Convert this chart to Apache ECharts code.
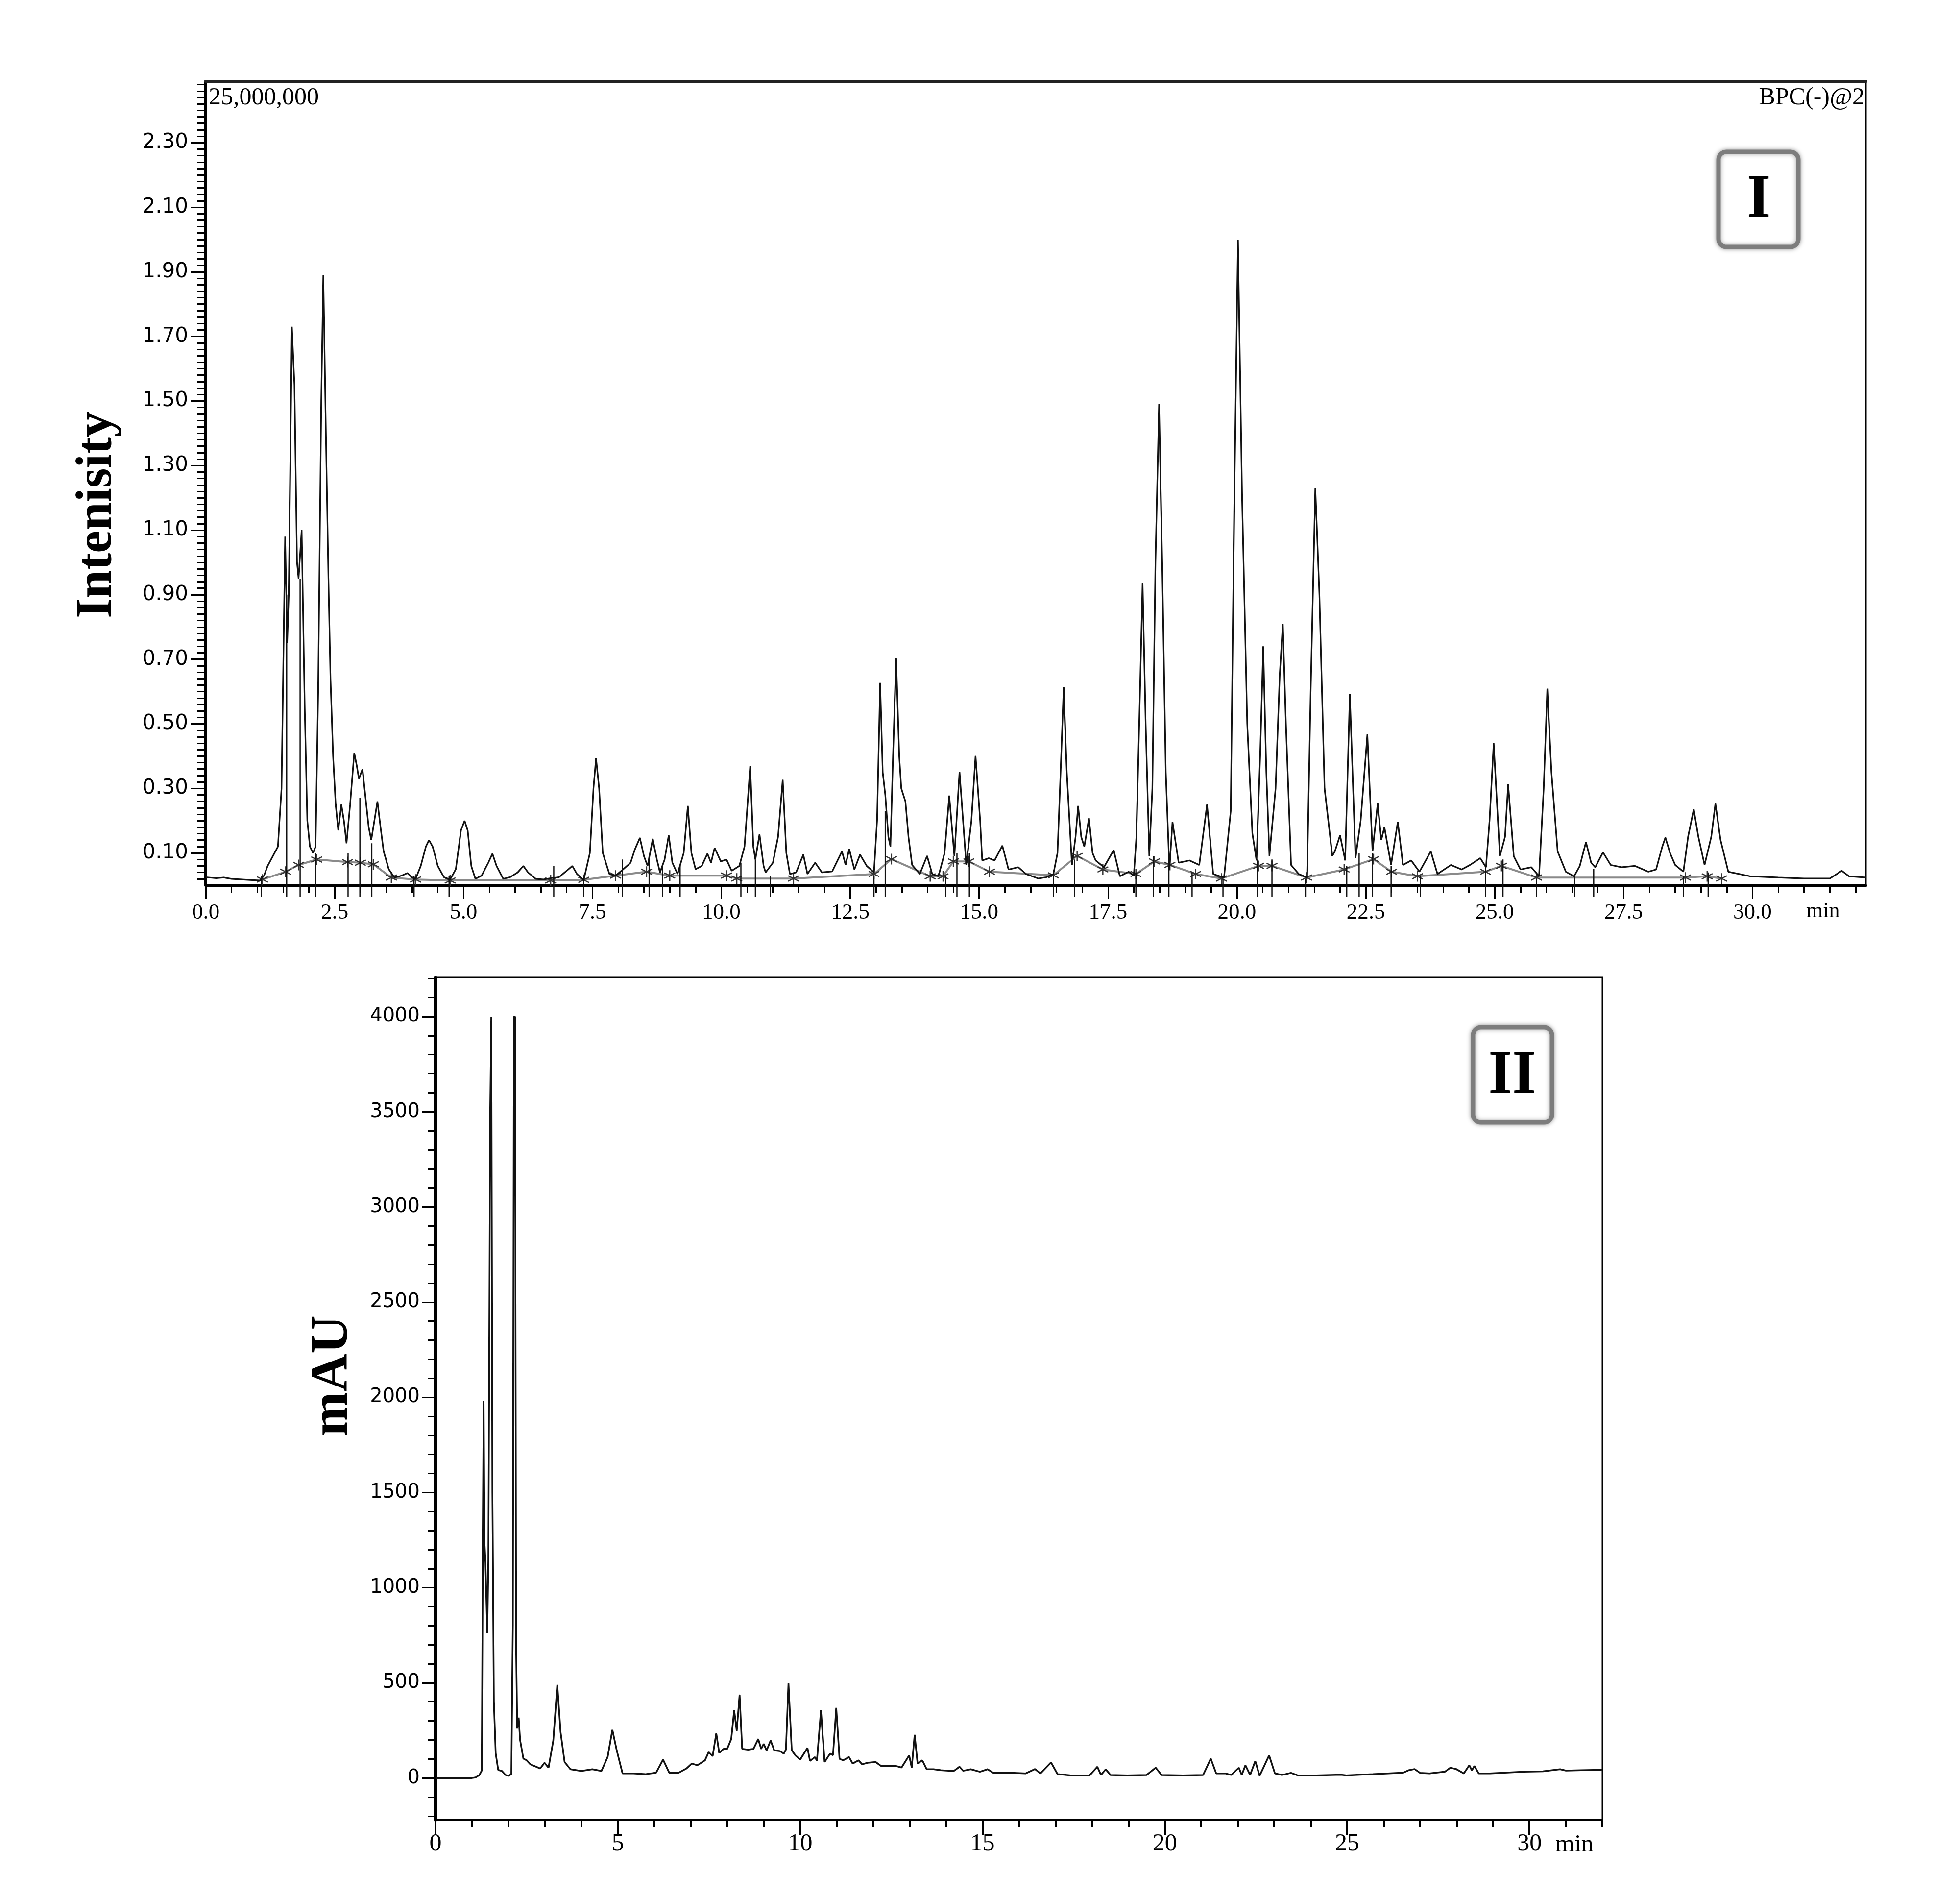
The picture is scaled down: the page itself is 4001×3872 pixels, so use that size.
<!DOCTYPE html>
<html><head><meta charset="utf-8">
<script src="https://cdn.jsdelivr.net/npm/echarts@6/dist/echarts.min.js"></script>
<style>html,body{margin:0;padding:0;background:#fff}#c{width:4001px;height:3872px}</style>
</head><body><div id="c"></div>
<script>
// ---------- Panel I : BPC(-) LC-MS chromatogram (time in min, intensity) ----------
const bpcTrace = [
[0.0,0.025],[0.2,0.022],[0.35,0.024],[0.5,0.02],[0.7,0.018],[0.9,0.016],[1.05,0.015],[1.13,0.03],[1.2,0.06],[1.3,0.09],[1.4,0.12],
[1.47,0.3],[1.54,1.08],[1.58,0.75],[1.61,0.9],[1.67,1.73],[1.72,1.55],[1.77,1.0],[1.80,0.95],[1.86,1.10],[1.92,0.55],[1.97,0.2],
[2.02,0.12],[2.08,0.1],[2.13,0.12],[2.18,0.6],[2.24,1.5],[2.28,1.89],[2.33,1.4],[2.38,0.95],[2.42,0.64],[2.47,0.4],[2.52,0.25],
[2.57,0.17],[2.63,0.25],[2.68,0.2],[2.73,0.13],[2.8,0.25],[2.88,0.41],[2.93,0.37],[2.97,0.33],[3.04,0.36],[3.1,0.27],[3.16,0.18],
[3.21,0.14],[3.27,0.2],[3.33,0.26],[3.39,0.18],[3.45,0.105],[3.55,0.05],[3.66,0.024],[3.8,0.03],[3.91,0.038],[4.0,0.025],[4.07,0.02],
[4.17,0.06],[4.27,0.12],[4.33,0.14],[4.4,0.12],[4.5,0.06],[4.62,0.025],[4.74,0.018],[4.85,0.05],[4.95,0.17],[5.02,0.2],[5.08,0.17],
[5.15,0.06],[5.23,0.02],[5.35,0.03],[5.48,0.07],[5.56,0.098],[5.64,0.06],[5.77,0.02],[5.9,0.025],[6.05,0.04],[6.16,0.06],[6.25,0.04],
[6.4,0.02],[6.55,0.018],[6.69,0.022],[6.85,0.025],[7.0,0.045],[7.11,0.06],[7.2,0.035],[7.33,0.016],[7.45,0.1],[7.52,0.3],[7.57,0.394],
[7.63,0.3],[7.7,0.1],[7.83,0.035],[7.95,0.03],[8.1,0.05],[8.24,0.07],[8.32,0.11],[8.42,0.147],[8.5,0.09],[8.57,0.06],[8.67,0.144],
[8.75,0.08],[8.81,0.04],[8.9,0.08],[8.98,0.155],[9.05,0.07],[9.15,0.035],[9.27,0.1],[9.35,0.246],[9.42,0.1],[9.5,0.05],[9.62,0.06],
[9.73,0.098],[9.8,0.07],[9.87,0.116],[9.99,0.074],[10.1,0.08],[10.2,0.045],[10.35,0.06],[10.45,0.12],[10.56,0.37],[10.62,0.12],
[10.66,0.08],[10.74,0.158],[10.82,0.06],[10.86,0.04],[11.0,0.07],[11.1,0.15],[11.19,0.327],[11.26,0.1],[11.33,0.035],[11.45,0.04],
[11.59,0.095],[11.67,0.035],[11.82,0.07],[11.95,0.04],[12.15,0.043],[12.34,0.105],[12.41,0.063],[12.48,0.112],[12.58,0.049],
[12.69,0.095],[12.82,0.06],[12.96,0.04],[13.02,0.2],[13.08,0.627],[13.13,0.35],[13.18,0.28],[13.24,0.15],[13.28,0.12],[13.33,0.4],
[13.39,0.704],[13.45,0.4],[13.49,0.3],[13.57,0.26],[13.63,0.15],[13.7,0.063],[13.85,0.035],[13.99,0.091],[14.09,0.035],[14.21,0.028],
[14.33,0.1],[14.42,0.278],[14.52,0.09],[14.62,0.352],[14.75,0.063],[14.85,0.2],[14.93,0.401],[15.02,0.2],[15.06,0.077],[15.19,0.084],
[15.3,0.077],[15.45,0.123],[15.57,0.049],[15.76,0.056],[15.91,0.035],[16.15,0.021],[16.3,0.025],[16.44,0.035],[16.52,0.1],[16.58,0.35],
[16.64,0.613],[16.7,0.35],[16.8,0.063],[16.87,0.15],[16.92,0.246],[16.98,0.15],[17.04,0.12],[17.13,0.208],[17.2,0.1],[17.26,0.077],
[17.42,0.056],[17.61,0.109],[17.73,0.028],[17.9,0.042],[18.0,0.03],[18.05,0.15],[18.12,0.6],[18.17,0.937],[18.23,0.5],[18.3,0.091],
[18.36,0.3],[18.42,1.0],[18.49,1.49],[18.55,1.0],[18.62,0.35],[18.69,0.049],[18.75,0.197],[18.87,0.07],[19.08,0.077],[19.27,0.063],
[19.42,0.25],[19.54,0.035],[19.75,0.024],[19.88,0.23],[19.95,1.2],[20.02,2.0],[20.1,1.2],[20.2,0.5],[20.3,0.16],[20.38,0.077],
[20.45,0.4],[20.51,0.74],[20.57,0.35],[20.63,0.091],[20.75,0.3],[20.83,0.65],[20.89,0.81],[20.95,0.5],[21.05,0.063],[21.2,0.035],
[21.36,0.024],[21.43,0.6],[21.52,1.23],[21.6,0.9],[21.7,0.3],[21.85,0.091],[21.9,0.105],[22.0,0.155],[22.1,0.077],[22.19,0.592],
[22.3,0.084],[22.4,0.2],[22.53,0.468],[22.63,0.105],[22.73,0.253],[22.8,0.14],[22.86,0.18],[22.99,0.063],[23.12,0.197],[23.22,0.063],
[23.38,0.077],[23.54,0.042],[23.76,0.105],[23.89,0.035],[24.15,0.063],[24.36,0.049],[24.52,0.063],[24.72,0.084],[24.83,0.056],
[24.9,0.2],[24.98,0.44],[25.1,0.09],[25.2,0.15],[25.26,0.313],[25.37,0.09],[25.5,0.049],[25.71,0.056],[25.86,0.028],[25.95,0.3],
[26.02,0.609],[26.1,0.35],[26.22,0.105],[26.38,0.042],[26.54,0.028],[26.65,0.06],[26.77,0.134],[26.87,0.07],[26.95,0.056],[27.1,0.102],
[27.25,0.063],[27.46,0.056],[27.72,0.06],[27.98,0.042],[28.13,0.049],[28.25,0.12],[28.31,0.148],[28.4,0.1],[28.5,0.063],[28.66,0.042],
[28.75,0.15],[28.86,0.236],[28.95,0.15],[29.07,0.063],[29.2,0.15],[29.28,0.253],[29.38,0.14],[29.53,0.042],[29.74,0.035],[29.95,0.028],
[30.5,0.024],[31.0,0.021],[31.5,0.021],[31.73,0.045],[31.87,0.028],[32.2,0.024]
];
const bpcBaseline = [
[1.1,0.018],[1.55,0.042],[1.8,0.063],[2.15,0.08],[2.75,0.072],[3.0,0.07],[3.25,0.065],[3.6,0.024],[4.07,0.018],[4.74,0.015],
[6.69,0.015],[7.33,0.017],[7.95,0.03],[8.55,0.042],[9.0,0.03],[10.1,0.03],[10.3,0.021],[11.4,0.021],[12.96,0.035],[13.3,0.081],
[14.05,0.028],[14.3,0.028],[14.5,0.074],[14.8,0.074],[15.2,0.042],[16.44,0.031],[16.9,0.091],[17.4,0.049],[18.04,0.035],[18.4,0.074],
[18.7,0.063],[19.2,0.035],[19.7,0.021],[20.42,0.06],[20.68,0.06],[21.35,0.024],[22.08,0.049],[22.65,0.081],[23.0,0.042],[23.5,0.028],
[24.82,0.042],[25.13,0.06],[25.81,0.024],[28.7,0.024],[29.12,0.028],[29.4,0.021]
];
const dropTimes = [1.08,1.57,1.83,2.13,2.76,2.99,3.22,4.04,4.72,6.75,7.33,8.08,8.6,8.86,9.2,10.38,10.66,10.95,12.96,13.18,14.35,14.57,14.81,
16.44,16.85,18.04,18.38,18.68,19.13,19.73,20.4,20.68,21.33,22.13,22.37,22.63,22.99,23.56,24.82,25.16,25.81,26.55,26.92,28.66,29.14];
const dropTops  = [0.03,0.9,0.95,0.1,0.1,0.27,0.13,0.03,0.03,0.06,0.02,0.08,0.09,0.06,0.06,0.07,0.08,0.03,0.03,0.23,0.03,0.1,0.1,
0.03,0.08,0.04,0.09,0.06,0.04,0.02,0.08,0.08,0.02,0.06,0.1,0.1,0.06,0.03,0.06,0.08,0.02,0.03,0.05,0.03,0.04];
const topXTickLabels = [0,2.5,5,7.5,10,12.5,15,17.5,20,22.5,25,27.5,30];
const topYTickLabels = [0.1,0.3,0.5,0.7,0.9,1.1,1.3,1.5,1.7,1.9,2.1,2.3];

// ---------- Panel II : HPLC-UV chromatogram (time in min, mAU) ----------
const uvTrace = [
[0,0],[0.5,0],[1.0,0],[1.1,3],[1.2,15],[1.27,40],[1.30,1300],[1.32,1980],[1.34,1250],[1.37,1130],[1.42,760],[1.45,1150],[1.50,3500],
[1.53,4000],[1.56,1500],[1.6,400],[1.65,130],[1.72,42],[1.82,37],[1.92,16],[2.0,11],[2.08,20],[2.12,800],[2.15,4000],[2.18,4000],
[2.21,700],[2.24,260],[2.28,317],[2.32,200],[2.41,102],[2.5,93],[2.6,72],[2.87,50],[2.99,80],[3.1,54],[3.23,197],[3.34,490],[3.43,240],
[3.54,84],[3.7,46],[4.0,37],[4.3,46],[4.55,37],[4.72,110],[4.85,253],[4.97,145],[5.13,24],[5.43,24],[5.75,20],[6.05,28],[6.24,97],
[6.41,28],[6.67,28],[6.88,50],[7.03,76],[7.18,67],[7.39,93],[7.49,136],[7.6,115],[7.7,235],[7.78,132],[7.9,153],[8.0,153],[8.11,205],
[8.19,356],[8.26,248],[8.34,438],[8.41,153],[8.57,149],[8.72,153],[8.85,205],[8.93,153],[9.0,179],[9.08,145],[9.19,197],[9.29,145],
[9.45,141],[9.55,128],[9.61,150],[9.68,498],[9.77,145],[9.87,119],[10.0,97],[10.2,158],[10.27,90],[10.41,110],[10.46,90],[10.57,356],
[10.67,84],[10.82,128],[10.9,120],[10.99,369],[11.08,101],[11.18,93],[11.34,110],[11.44,76],[11.6,93],[11.7,72],[11.85,80],[12.07,84],
[12.22,63],[12.63,63],[12.78,55],[12.99,119],[13.06,55],[13.14,227],[13.22,76],[13.35,93],[13.47,46],[13.66,46],[13.86,41],[14.07,38],
[14.22,38],[14.37,59],[14.47,38],[14.68,46],[14.93,33],[15.14,46],[15.29,28],[15.87,27],[16.18,24],[16.44,47],[16.59,24],[16.88,82],
[17.06,20],[17.42,14],[17.94,14],[18.15,59],[18.25,16],[18.38,46],[18.51,16],[18.97,14],[19.5,16],[19.75,54],[19.91,16],[20.5,14],
[21.05,16],[21.26,102],[21.41,24],[21.67,24],[21.82,16],[22.03,54],[22.11,16],[22.21,67],[22.34,16],[22.48,89],[22.6,12],[22.86,119],
[23.02,24],[23.22,16],[23.46,27],[23.64,14],[24.16,14],[24.83,17],[24.98,14],[25.71,20],[26.54,28],[26.69,41],[26.85,47],[27.0,27],
[27.26,24],[27.68,33],[27.83,54],[27.99,47],[28.2,24],[28.35,67],[28.42,40],[28.49,63],[28.61,24],[28.92,24],[29.33,28],[29.85,33],
[30.37,35],[30.84,46],[31.0,39],[31.41,41],[31.92,43],[32,44]
];
const botXTickLabels = [0,5,10,15,20,25,30];
const botYTickLabels = [0,500,1000,1500,2000,2500,3000,3500,4000];

// ---------- minor tick positions ----------
const topXMinor = []; for (let i = 0; i <= 64; i++) topXMinor.push(i / 2);
const topYMinor = []; for (let i = 1; i <= 124; i++) topYMinor.push(i / 50);
const botXMinor = []; for (let i = 0; i <= 32; i++) botXMinor.push(i);
const botYMinor = []; for (let i = -2; i <= 42; i++) botYMinor.push(i * 100);

const dropData = [];
dropTimes.forEach((t, i) => { dropData.push([t, -0.035], [t, dropTops[i]], [t, '-']); });

const BLACK = '#000';
const serif = '"Liberation Serif","Times New Roman",serif';
const sans = '"DejaVu Sans",Verdana,sans-serif';
const asterisk = 'path://M0,-10L0,10M-9,-5L9,5M-9,5L9,-5';

const chart = echarts.init(document.getElementById('c'), null, {renderer: 'canvas'});
chart.setOption({
  animation: false,
  backgroundColor: '#fff',
  grid: [
    {left: 420, top: 166, width: 3389, height: 1641, show: true, borderColor: BLACK, borderWidth: 3, backgroundColor: 'transparent'},
    {left: 889, top: 1995, width: 2382, height: 1720, show: true, borderColor: BLACK, borderWidth: 3, backgroundColor: 'transparent'}
  ],
  xAxis: [
    {type: 'value', gridIndex: 0, min: 0, max: 32.2, position: 'bottom',
     axisLine: {show: true, onZero: false, lineStyle: {color: BLACK, width: 5}},
     axisTick: {show: true, customValues: topXTickLabels, length: 28, lineStyle: {color: BLACK, width: 3}},
     axisLabel: {show: true, customValues: topXTickLabels, formatter: v => Number(v).toFixed(1),
                 fontFamily: serif, fontSize: 45, color: BLACK, margin: 34},
     splitLine: {show: false}},
    {type: 'value', gridIndex: 0, min: 0, max: 32.2, position: 'bottom',
     axisLine: {show: false, onZero: false}, axisLabel: {show: false},
     axisTick: {show: true, customValues: topXMinor, length: 15, lineStyle: {color: BLACK, width: 3}},
     splitLine: {show: false}},
    {type: 'value', gridIndex: 0, min: 0, max: 32.2, position: 'top',
     axisLine: {show: true, onZero: false, lineStyle: {color: '#222', width: 6}},
     axisTick: {show: false}, axisLabel: {show: false}, splitLine: {show: false}},
    {type: 'value', gridIndex: 1, min: 0, max: 32, position: 'bottom',
     axisLine: {show: true, onZero: false, lineStyle: {color: BLACK, width: 4}},
     axisTick: {show: true, customValues: botXTickLabels, length: 30, lineStyle: {color: BLACK, width: 4}},
     axisLabel: {show: true, customValues: botXTickLabels, formatter: v => String(Math.round(v)),
                 fontFamily: serif, fontSize: 50, color: BLACK, margin: 24},
     splitLine: {show: false}},
    {type: 'value', gridIndex: 1, min: 0, max: 32, position: 'bottom',
     axisLine: {show: false, onZero: false}, axisLabel: {show: false},
     axisTick: {show: true, customValues: botXMinor, length: 15, lineStyle: {color: BLACK, width: 4}},
     splitLine: {show: false}}
  ],
  yAxis: [
    {type: 'value', gridIndex: 0, min: 0, max: 2.49, position: 'left',
     axisLine: {show: true, onZero: false, lineStyle: {color: BLACK, width: 6}},
     axisTick: {show: true, customValues: topYTickLabels, length: 31, lineStyle: {color: BLACK, width: 3}},
     axisLabel: {show: true, customValues: topYTickLabels, formatter: v => Number(v).toFixed(2),
                 fontFamily: sans, fontSize: 42, color: BLACK, margin: 36},
     splitLine: {show: false}},
    {type: 'value', gridIndex: 0, min: 0, max: 2.49, position: 'left',
     axisLine: {show: false, onZero: false}, axisLabel: {show: false},
     axisTick: {show: true, customValues: topYMinor, length: 17, lineStyle: {color: BLACK, width: 3}},
     splitLine: {show: false}},
    {type: 'value', gridIndex: 1, min: -221, max: 4206, position: 'left',
     axisLine: {show: true, onZero: false, lineStyle: {color: BLACK, width: 6}},
     axisTick: {show: true, customValues: botYTickLabels, length: 28, lineStyle: {color: BLACK, width: 3}},
     axisLabel: {show: true, customValues: botYTickLabels, formatter: v => String(Math.round(v)),
                 fontFamily: sans, fontSize: 40, color: BLACK, margin: 32},
     splitLine: {show: false}},
    {type: 'value', gridIndex: 1, min: -221, max: 4206, position: 'left',
     axisLine: {show: false, onZero: false}, axisLabel: {show: false},
     axisTick: {show: true, customValues: botYMinor, length: 15, lineStyle: {color: BLACK, width: 3}},
     splitLine: {show: false}}
  ],
  series: [
    {type: 'line', xAxisIndex: 0, yAxisIndex: 0, data: bpcBaseline, showSymbol: true, symbol: asterisk, symbolSize: 22,
     itemStyle: {color: 'none', borderColor: '#333', borderWidth: 2.5},
     lineStyle: {color: '#8a8a8a', width: 4}, z: 2, silent: true},
    {type: 'line', xAxisIndex: 0, yAxisIndex: 0, data: dropData, showSymbol: false, symbol: 'none', clip: false,
     connectNulls: false, lineStyle: {color: '#111', width: 2.5}, z: 3, silent: true},
    {type: 'line', xAxisIndex: 0, yAxisIndex: 0, data: bpcTrace, showSymbol: false, symbol: 'none',
     lineStyle: {color: '#111', width: 3.2}, z: 4, silent: true},
    {type: 'line', xAxisIndex: 3, yAxisIndex: 2, data: uvTrace, showSymbol: false, symbol: 'none',
     lineStyle: {color: '#111', width: 3.5}, z: 4, silent: true}
  ],
  graphic: [
    {type: 'text', x: 426, y: 200, style: {text: '25,000,000', font: '50px ' + serif, fill: BLACK, align: 'left', verticalAlign: 'middle'}},
    {type: 'text', x: 3806, y: 200, style: {text: 'BPC(-)@2', font: '50px ' + serif, fill: BLACK, align: 'right', verticalAlign: 'middle'}},
    {type: 'text', x: 3687, y: 1860, style: {text: 'min', font: '44px ' + serif, fill: BLACK, align: 'left', verticalAlign: 'middle'}},
    {type: 'text', x: 3175, y: 3766, style: {text: 'min', font: '50px ' + serif, fill: BLACK, align: 'left', verticalAlign: 'middle'}},
    {type: 'text', x: 199, y: 1051, rotation: Math.PI / 2,
     style: {text: 'Intenisity', font: 'bold 104px ' + serif, fill: BLACK, align: 'center', verticalAlign: 'middle'}},
    {type: 'text', x: 680, y: 2808, rotation: Math.PI / 2,
     style: {text: 'mAU', font: 'bold 108px ' + serif, fill: BLACK, align: 'center', verticalAlign: 'middle'}},
    {type: 'rect', shape: {x: 3508, y: 310, width: 163, height: 194, r: 16},
     style: {fill: '#fff', stroke: '#7d7d7d', lineWidth: 9, shadowBlur: 10, shadowColor: 'rgba(0,0,0,0.35)'}},
    {type: 'text', x: 3590, y: 410, style: {text: 'I', font: 'bold 125px ' + serif, fill: BLACK, align: 'center', verticalAlign: 'middle'}},
    {type: 'rect', shape: {x: 3007, y: 2097, width: 161, height: 194, r: 16},
     style: {fill: '#fff', stroke: '#7d7d7d', lineWidth: 9, shadowBlur: 10, shadowColor: 'rgba(0,0,0,0.35)'}},
    {type: 'text', x: 3087, y: 2198, style: {text: 'II', font: 'bold 125px ' + serif, fill: BLACK, align: 'center', verticalAlign: 'middle'}}
  ]
});
</script>
</body></html>
